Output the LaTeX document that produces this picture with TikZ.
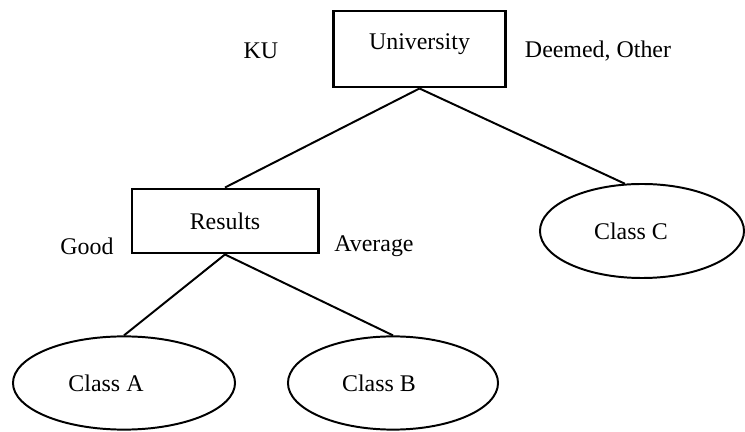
\documentclass[tikz,border=0pt]{standalone}
\usepackage{fontspec}
\setmainfont{Liberation Serif}
\usetikzlibrary{shapes.geometric}

\begin{document}
\begin{tikzpicture}
	[x=0.025cm,y=-0.025cm,font=\fontsize{17pt}{20pt}\selectfont,
	box/.style={rectangle, draw, line width=2.1pt, inner sep=0pt},
	oval/.style={ellipse, draw, line width=1.4pt, inner sep=0pt},
	tag/.style={inner sep=0pt}]
	\useasboundingbox (0,0) rectangle (745,432);
	\node[box, minimum width=4.3cm, minimum height=1.9cm] (univ) at (419.5,49) {\raisebox{0.35cm}{University}};
	\node[box, minimum width=4.65cm, minimum height=1.6cm] (results) at (225,221) {Results};
	\node[oval, minimum width=5.55cm, minimum height=2.33cm] (classA) at (124,383) {\hspace*{-0.9cm}Class A};
	\node[oval, minimum width=5.25cm, minimum height=2.33cm] (classB) at (393,383) {\hspace*{-0.7cm}Class B};
	\node[oval, minimum width=5.1cm, minimum height=2.35cm] (classC) at (642,231) {\hspace*{-0.55cm}Class C};
	\node[tag] (ku) at (261,51) {KU};
	\node[tag] (deemed) at (598,51) {Deemed, Other};
	\node[tag] (good) at (87,246) {Good};
	\node[tag] (average) at (374,246) {Average};
	
	\foreach \from/\to in {univ.south/results.north,univ.south/classC.110,results.south/classA.north,results.south/classB.north}
	\draw[line width=1.4pt] (\from) -- (\to);
	\end{tikzpicture}
\end{document}
